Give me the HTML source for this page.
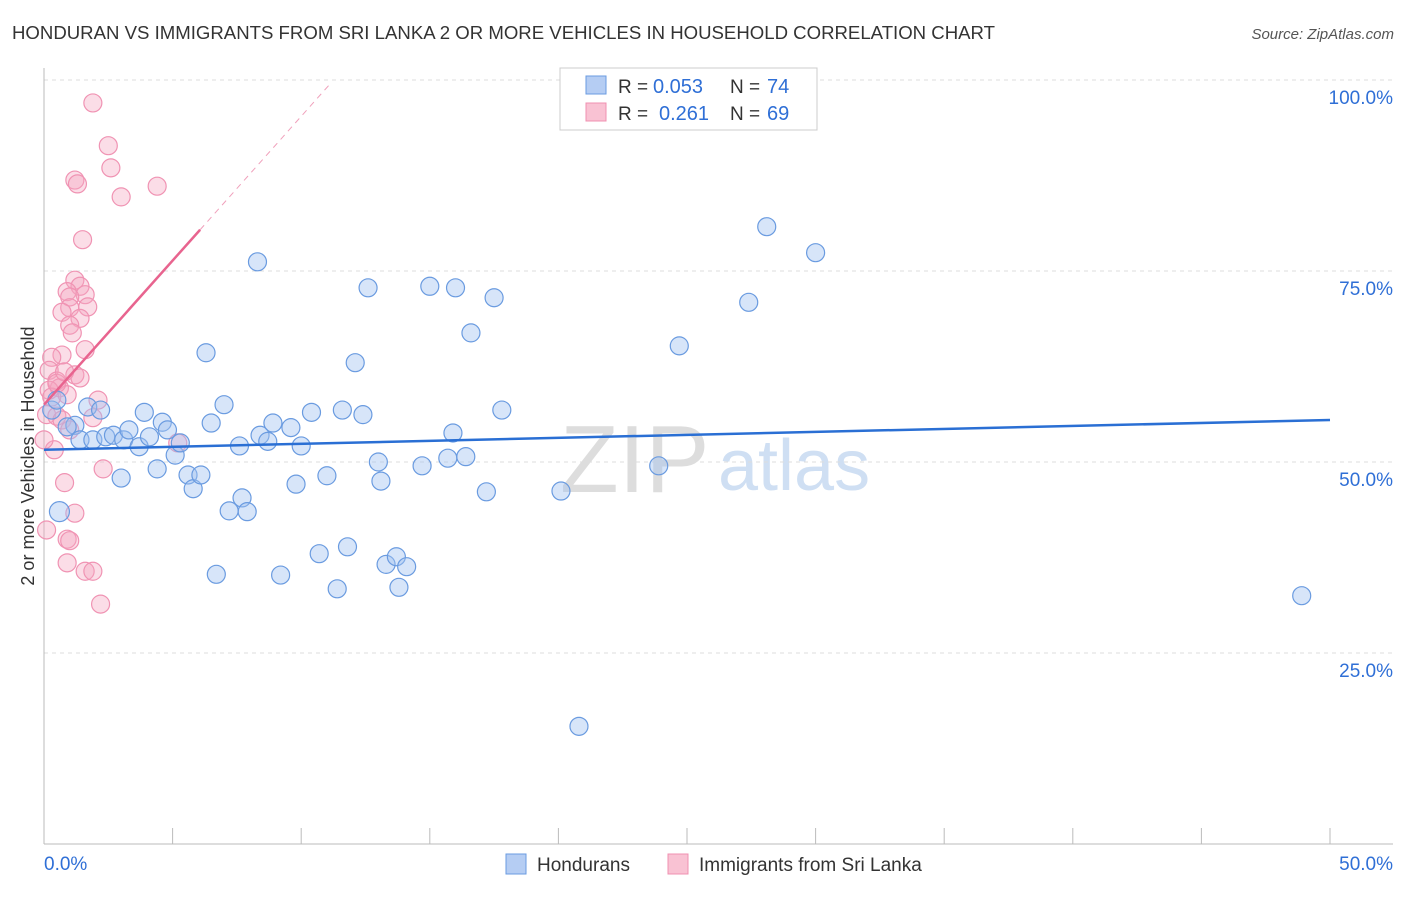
<!DOCTYPE html>
<html><head><meta charset="utf-8"><style>
body{margin:0;background:#fff;font-family:"Liberation Sans",sans-serif}
svg text{font-family:"Liberation Sans",sans-serif}
</style></head><body>
<svg width="1406" height="892" id="c">
<text x="12" y="39" font-size="18" fill="#333" textLength="983" lengthAdjust="spacingAndGlyphs">HONDURAN VS IMMIGRANTS FROM SRI LANKA 2 OR MORE VEHICLES IN HOUSEHOLD CORRELATION CHART</text>
<text x="1394" y="39" font-size="15" fill="#555" font-style="italic" text-anchor="end">Source: ZipAtlas.com</text>
<text x="560" y="492" font-size="96" fill="#ddd" font-family="Liberation Serif">ZIP</text>
<text x="718" y="490" font-size="72" fill="#cfdff3">atlas</text>
<text transform="translate(34,456) rotate(-90)" font-size="18" fill="#333" text-anchor="middle">2 or more Vehicles in Household</text>
<g id="grid"></g><g id="ticks"></g><g id="pts"></g><g id="trend"></g>
<g>
<rect x="560" y="68" width="257" height="62" fill="#fff" stroke="#ccc"/>
<rect x="586" y="76" width="20" height="18" fill="#b5cdf3" stroke="#6a9be0"/>
<rect x="586" y="103" width="20" height="18" fill="#f9c2d3" stroke="#f090b0"/>
<text x="618" y="93" font-size="19" fill="#333">R =</text>
<text x="653" y="93" font-size="20" fill="#2f6fd6">0.053</text>
<text x="730" y="93" font-size="19" fill="#333">N =</text>
<text x="767" y="93" font-size="20" fill="#2f6fd6">74</text>
<text x="618" y="120" font-size="19" fill="#333">R =</text>
<text x="659" y="120" font-size="20" fill="#2f6fd6">0.261</text>
<text x="730" y="120" font-size="19" fill="#333">N =</text>
<text x="767" y="120" font-size="20" fill="#2f6fd6">69</text>
</g>
<g>
<rect x="506" y="854" width="20" height="20" fill="#b5cdf3" stroke="#6a9be0"/>
<text x="537" y="871" font-size="19" fill="#333">Hondurans</text>
<rect x="668" y="854" width="20" height="20" fill="#f9c2d3" stroke="#f090b0"/>
<text x="699" y="871" font-size="19" fill="#333">Immigrants from Sri Lanka</text>
</g>
</svg>
<script>
const blueX=[0.6,1.2,1.7,1.4,1.9,2.2,2.4,2.7,3.0,3.1,3.3,3.7,3.9,4.1,4.4,4.6,4.8,5.1,5.3,5.6,5.8,6.1,6.3,6.5,6.7,7.0,7.2,7.6,7.7,7.9,8.3,8.4,8.7,8.9,9.2,9.6,9.8,10.0,10.4,10.7,11.0,11.4,11.6,11.8,12.1,12.4,12.6,13.0,13.1,13.3,13.7,13.8,14.1,14.7,15.0,15.7,15.9,16.0,16.4,16.6,17.2,17.5,17.8,20.1,20.8,23.9,24.7,27.4,28.1,30.0,48.9,0.3,0.9,0.5];
const blueY=[43.5,54.8,57.2,52.9,52.9,56.8,53.3,53.5,47.9,52.9,54.2,52.0,56.5,53.3,49.1,55.2,54.2,50.9,52.5,48.3,46.5,48.3,64.3,55.1,35.3,57.5,43.6,52.1,45.3,43.5,76.2,53.5,52.7,55.1,35.2,54.5,47.1,52.1,56.5,38.0,48.2,33.4,56.8,38.9,63.0,56.2,72.8,50.0,47.5,36.6,37.6,33.6,36.3,49.5,73.0,50.5,53.8,72.8,50.7,66.9,46.1,71.5,56.8,46.2,15.4,49.5,65.2,70.9,80.8,77.4,32.5,56.8,54.6,58.1];
const pinkX=[1.9,2.5,2.6,1.2,1.3,3.0,4.4,1.5,1.2,1.4,0.9,1.6,1.0,1.0,1.7,0.7,1.4,1.0,1.1,1.6,0.7,0.3,0.2,1.2,1.4,0.5,0.6,0.2,0.3,0.9,2.1,0.1,0.5,1.9,0.7,5.2,1.0,0.4,0.0,2.3,0.8,1.2,0.1,0.9,1.0,0.9,1.6,1.9,2.2,0.5,0.8];
const pinkY=[97.0,91.4,88.5,86.9,86.4,84.7,86.1,79.1,73.8,73.0,72.3,71.9,71.6,70.2,70.3,69.6,68.8,67.9,66.9,64.7,64.0,63.7,62.0,61.4,61.0,60.6,59.7,59.4,58.5,58.8,58.1,56.2,56.0,55.8,55.5,52.5,54.2,51.6,52.9,49.1,47.3,43.3,41.1,39.9,39.7,36.8,35.7,35.7,31.4,60.3,61.8];
const yTicks=[25,50,75,100];
const yTickLabels=["25.0%","50.0%","75.0%","100.0%"];
const xTickLabels=["0.0%","50.0%"];
const blueTrend=[51.6,55.5];
const pinkTrend=[57.5,80.4,99.4];
const pinkTrendX=[0,6.07,11.1];
const NS='http://www.w3.org/2000/svg';
const X=v=>44+v*25.72, Y=v=>844-v*7.64;
function mk(t,a,p){const e=document.createElementNS(NS,t);for(const k in a)e.setAttribute(k,a[k]);p.appendChild(e);return e;}
const grid=document.getElementById('grid'),ticks=document.getElementById('ticks'),pts=document.getElementById('pts'),tr=document.getElementById('trend');
yTicks.forEach((t,i)=>{
 const l=mk('line',{x1:44,x2:1393,y1:Y(t),y2:Y(t),stroke:'#ddd','stroke-dasharray':'4,4'},grid);
 
 
 const tx=mk('text',{x:1393,y:Y(t)+24,'font-size':19,fill:'#2f6fd6','text-anchor':'end'},ticks);
 tx.textContent=yTickLabels[i];
 
 
});
mk('line',{x1:44,x2:44,y1:68,y2:844,stroke:'#bbb'},ticks);
mk('line',{x1:44,x2:1393,y1:844,y2:844,stroke:'#bbb'},ticks);
for(let i=0;i<=10;i++){mk('line',{x1:X(i*5),x2:X(i*5),y1:828,y2:844,stroke:'#bbb'},ticks);}
[[0,'start',44],[1,'end',1393]].forEach(([i,a,x])=>{const t=mk('text',{x:x,y:870,'font-size':19,fill:'#2f6fd6','text-anchor':a},ticks);t.textContent=xTickLabels[i];
 
 });
pinkX.forEach((v,i)=>{const c=mk('circle',{cx:X(v),cy:Y(pinkY[i]),r:9,fill:'rgba(245,165,192,0.38)',stroke:'#f093b3','stroke-width':1.2},pts);
 
 });
blueX.forEach((v,i)=>{const c=mk('circle',{cx:X(v),cy:Y(blueY[i]),r:i===0?10:9,fill:'rgba(160,192,240,0.42)',stroke:'#6a9be0','stroke-width':1.2},pts);
 
 });
const bl=mk('line',{x1:X(0),y1:Y(blueTrend[0]),x2:X(50),y2:Y(blueTrend[1]),stroke:'#2a6fd4','stroke-width':2.5},tr);


const pl=mk('line',{x1:X(pinkTrendX[0]),y1:Y(pinkTrend[0]),x2:X(pinkTrendX[1]),y2:Y(pinkTrend[1]),stroke:'#e8648f','stroke-width':2.5},tr);


const pd=mk('line',{x1:X(pinkTrendX[1]),y1:Y(pinkTrend[1]),x2:X(pinkTrendX[2]),y2:Y(pinkTrend[2]),stroke:'#f0a0bb','stroke-width':1,'stroke-dasharray':'6,5'},tr);


</script>
</body></html>
